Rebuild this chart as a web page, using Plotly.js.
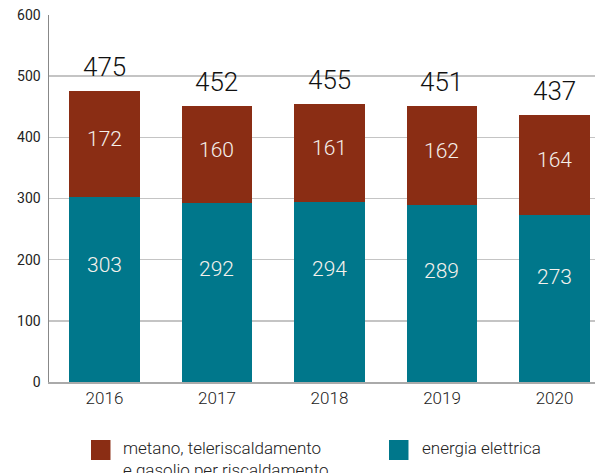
<!DOCTYPE html>
<html lang="it">
<head>
<meta charset="UTF-8">
<title>Consumi energetici</title>
<script src="https://cdn.plot.ly/plotly-3.0.1.min.js"></script>
<style>
  body { margin: 0; background: #fff; }
  #chart { width: 595px; height: 473px; }
</style>
</head>
<body>
<div id="chart"></div>
<script>
const years = ["2016", "2017", "2018", "2019", "2020"];
const elettrica = [303, 292, 294, 289, 273];
const metano = [172, 160, 161, 162, 164];
const totali = [475, 452, 455, 451, 437];
const seriesNames = ["metano, teleriscaldamento<br>e gasolio per riscaldamento", "energia elettrica"];

const BROWN = "#8A2D14";
const TEAL = "#00778B";
const FONT = "Roboto, 'Open Sans', sans-serif";

const traces = [
  {
    type: "bar", x: years, y: elettrica, name: seriesNames[1],
    marker: { color: TEAL }, hoverinfo: "skip"
  },
  {
    type: "bar", x: years, y: metano, name: seriesNames[0],
    marker: { color: BROWN }, hoverinfo: "skip"
  }
];

const annotations = [];
for (let i = 0; i < years.length; i++) {
  annotations.push({
    xref: "x", yref: "y", x: i, y: totali[i],
    text: String(totali[i]), showarrow: false,
    yanchor: "bottom", yshift: 7,
    font: { family: FONT, size: 26, color: "#111", weight: 300 }
  });
  annotations.push({
    xref: "x", yref: "y", x: i, y: elettrica[i] * 0.63,
    text: String(elettrica[i]), showarrow: false,
    font: { family: FONT, size: 21, color: "#f5f1ec", weight: 300 }
  });
  annotations.push({
    xref: "x", yref: "y", x: i, y: elettrica[i] + metano[i] * 0.55,
    text: String(metano[i]), showarrow: false,
    font: { family: FONT, size: 21, color: "#f5f1ec", weight: 300 }
  });
}

// legend drawn by hand so the swatches can be 20px
const legendItems = [
  { name: seriesNames[0], color: BROWN, x: 0.0769, tx: 0.1319 },
  { name: seriesNames[1], color: TEAL, x: 0.6227, tx: 0.6795 }
];
const shapes = [];
legendItems.forEach(it => {
  shapes.push({
    type: "rect", xref: "paper", yref: "paper",
    x0: it.x, x1: it.x + 0.0357, y0: -0.2125, y1: -0.158,
    fillcolor: it.color, line: { width: 0 }
  });
  annotations.push({
    xref: "paper", yref: "paper", x: it.tx, y: -0.147,
    xanchor: "left", yanchor: "top", align: "left",
    text: it.name, showarrow: false,
    font: { family: FONT, size: 17, color: "#222", weight: 300 }
  });
});

const layout = {
  width: 595, height: 473,
  margin: { l: 49, r: 0, t: 15, b: 91, autoexpand: false },
  paper_bgcolor: "#fff", plot_bgcolor: "#fff",
  barmode: "stack", bargap: 0.37,
  font: { family: FONT, color: "#222" },
  showlegend: false,
  xaxis: {
    type: "category", range: [-0.493, 4.36],
    showline: true, linecolor: "#aaa", linewidth: 1.5,
    showgrid: false, ticks: "",
    tickfont: { size: 17, color: "#222", weight: 300 }
  },
  yaxis: {
    range: [0, 600], dtick: 100,
    showline: true, linecolor: "#888", linewidth: 1.5,
    gridcolor: "#c4c4c4", gridwidth: 1.5, zeroline: false,
    ticks: "", ticklabelstandoff: 4,
    tickfont: { size: 14, color: "#222" }
  },
  shapes: shapes,
  annotations: annotations
};

Plotly.newPlot("chart", traces, layout, { staticPlot: true });
</script>
</body>
</html>
